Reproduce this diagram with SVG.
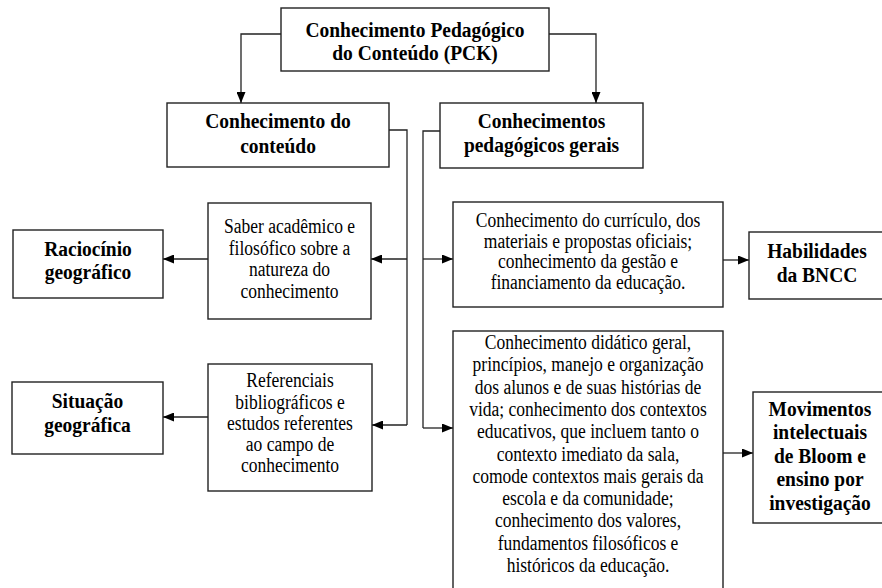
<svg xmlns="http://www.w3.org/2000/svg" width="882" height="588" viewBox="0 0 882 588">
<defs>
<marker id="ah" markerUnits="userSpaceOnUse" markerWidth="11" markerHeight="9" refX="11" refY="4.5" orient="auto">
<path d="M0,0 L11,4.5 L0,9 z" fill="#000"/>
</marker>
<style>
.box{fill:#fff;stroke:#222;stroke-width:1.4}
.b{font-family:"Liberation Serif","Times New Roman",serif;font-weight:bold;font-size:22px;fill:#000;text-anchor:middle}
.r{font-family:"Liberation Serif","Times New Roman",serif;font-size:20px;fill:#000;text-anchor:middle}
.c{fill:none;stroke:#222;stroke-width:1.3}
.ca{fill:none;stroke:#222;stroke-width:1.3;marker-end:url(#ah)}
</style>
</defs>
<rect width="882" height="588" fill="#fff"/>
<g id="connectors">
<path class="ca" d="M281,34 H241 V103"/>
<path class="ca" d="M549,34 H596 V103"/>
<path class="c" d="M389,130 H407 V425"/>
<path class="ca" d="M407,259 H371"/>
<path class="ca" d="M407,425 H372"/>
<path class="c" d="M440,131 H423 V428"/>
<path class="ca" d="M423,259 H453"/>
<path class="ca" d="M423,428 H453"/>
<path class="ca" d="M208,259 H163"/>
<path class="ca" d="M208,417 H163"/>
<path class="ca" d="M723,260 H749"/>
<path class="ca" d="M723,453 H753"/>
</g>
<g id="pck">
<rect class="box" x="281" y="8" width="268" height="63"/>
<text class="b" transform="translate(415,37) scale(0.886,1)">Conhecimento Pedagógico</text>
<text class="b" transform="translate(415,60) scale(0.886,1)">do Conteúdo (PCK)</text>
</g>
<g id="conteudo">
<rect class="box" x="167" y="103" width="222" height="64"/>
<text class="b" transform="translate(278,128) scale(0.886,1)">Conhecimento do</text>
<text class="b" transform="translate(278,152.5) scale(0.886,1)">conteúdo</text>
</g>
<g id="pedagogicos">
<rect class="box" x="440" y="103" width="203" height="65"/>
<text class="b" transform="translate(541.5,128) scale(0.886,1)">Conhecimentos</text>
<text class="b" transform="translate(541.5,152) scale(0.886,1)">pedagógicos gerais</text>
</g>
<g id="saber">
<rect class="box" x="208" y="203" width="163" height="116"/>
<text class="r" transform="translate(289.5,233) scale(0.875,1)">Saber acadêmico e</text>
<text class="r" transform="translate(289.5,254.5) scale(0.875,1)">filosófico sobre a</text>
<text class="r" transform="translate(289.5,276) scale(0.875,1)">natureza do</text>
<text class="r" transform="translate(289.5,297.5) scale(0.875,1)">conhecimento</text>
</g>
<g id="raciocinio">
<rect class="box" x="13" y="230" width="150" height="68"/>
<text class="b" transform="translate(88,255.5) scale(0.886,1)">Raciocínio</text>
<text class="b" transform="translate(88,279) scale(0.886,1)">geográfico</text>
</g>
<g id="referenciais">
<rect class="box" x="208" y="364" width="164" height="127"/>
<text class="r" transform="translate(290,387) scale(0.875,1)">Referenciais</text>
<text class="r" transform="translate(290,408.5) scale(0.875,1)">bibliográficos e</text>
<text class="r" transform="translate(290,430) scale(0.875,1)">estudos referentes</text>
<text class="r" transform="translate(290,451) scale(0.875,1)">ao campo de</text>
<text class="r" transform="translate(290,472) scale(0.875,1)">conhecimento</text>
</g>
<g id="situacao">
<rect class="box" x="12" y="382" width="151" height="72"/>
<text class="b" transform="translate(87.5,408) scale(0.886,1)">Situação</text>
<text class="b" transform="translate(87.5,432) scale(0.886,1)">geográfica</text>
</g>
<g id="curriculo">
<rect class="box" x="453" y="202" width="270" height="105"/>
<text class="r" transform="translate(588,227) scale(0.875,1)">Conhecimento do currículo, dos</text>
<text class="r" transform="translate(588,247.5) scale(0.875,1)">materiais e propostas oficiais;</text>
<text class="r" transform="translate(588,268) scale(0.875,1)">conhecimento da gestão e</text>
<text class="r" transform="translate(588,288.5) scale(0.875,1)">financiamento da educação.</text>
</g>
<g id="habilidades">
<rect class="box" x="749" y="232" width="140" height="67"/>
<text class="b" transform="translate(817,258) scale(0.886,1)">Habilidades</text>
<text class="b" transform="translate(817,281.5) scale(0.886,1)">da BNCC</text>
</g>
<g id="didatico">
<rect class="box" x="453" y="331" width="270" height="270"/>
<text class="r" transform="translate(588,349) scale(0.875,1)">Conhecimento didático geral,</text>
<text class="r" transform="translate(588,371.3) scale(0.875,1)">princípios, manejo e organização</text>
<text class="r" transform="translate(588,393.6) scale(0.875,1)">dos alunos e de suas histórias de</text>
<text class="r" transform="translate(588,415.9) scale(0.875,1)">vida; conhecimento dos contextos</text>
<text class="r" transform="translate(588,438.2) scale(0.875,1)">educativos, que incluem tanto o</text>
<text class="r" transform="translate(588,460.5) scale(0.875,1)">contexto imediato da sala,</text>
<text class="r" transform="translate(588,482.8) scale(0.875,1)">comode contextos mais gerais da</text>
<text class="r" transform="translate(588,505.1) scale(0.875,1)">escola e da comunidade;</text>
<text class="r" transform="translate(588,527.4) scale(0.875,1)">conhecimento dos valores,</text>
<text class="r" transform="translate(588,549.7) scale(0.875,1)">fundamentos filosóficos e</text>
<text class="r" transform="translate(588,572) scale(0.875,1)">históricos da educação.</text>
</g>
<g id="movimentos">
<rect class="box" x="753" y="392" width="140" height="131"/>
<text class="b" transform="translate(820,415.5) scale(0.886,1)">Movimentos</text>
<text class="b" transform="translate(820,439) scale(0.886,1)">intelectuais</text>
<text class="b" transform="translate(820,462.5) scale(0.886,1)">de Bloom e</text>
<text class="b" transform="translate(820,486) scale(0.886,1)">ensino por</text>
<text class="b" transform="translate(820,509.5) scale(0.886,1)">investigação</text>
</g>
</svg>
